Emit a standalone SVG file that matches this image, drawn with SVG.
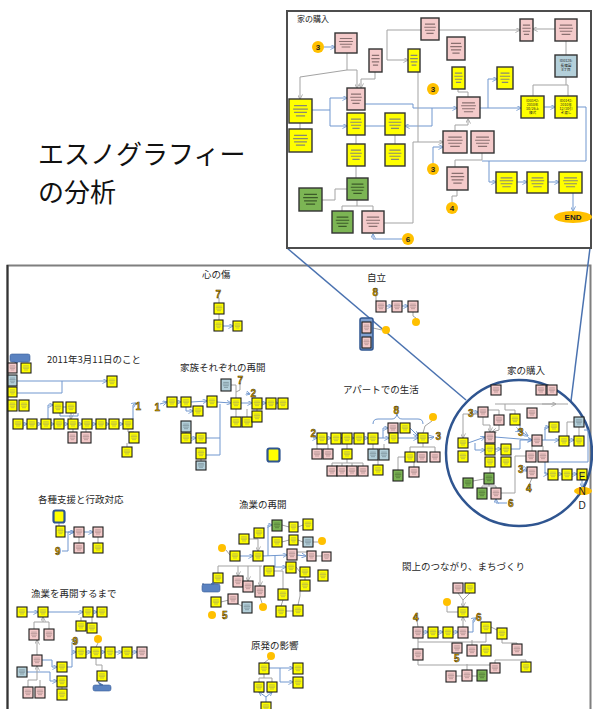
<svg xmlns="http://www.w3.org/2000/svg" width="593" height="709" viewBox="0 0 593 709">
<style>
.Y,.P,.B,.G{stroke:#1e1e1e;stroke-width:1.1}
.Y{fill:url(#py)}.P{fill:url(#pp)}.B{fill:url(#pb)}.G{fill:url(#pg)}
.inset .Y,.inset .P,.inset .B,.inset .G{stroke:#333;stroke-width:1.4}
.b{fill:none;stroke:#7097cf;stroke-width:1;marker-end:url(#ab)}
.bl{fill:none;stroke:#7097cf;stroke-width:1}
.g{fill:none;stroke:#a3a3a3;stroke-width:1}
.ga{fill:none;stroke:#a3a3a3;stroke-width:1;marker-end:url(#ag)}
.t{font-family:"Noto Sans CJK JP","Noto Sans",sans-serif;font-size:9.5px;fill:#262626}
.num{font-family:"Liberation Sans",sans-serif;font-weight:bold;font-size:10px;fill:#D9A300;stroke:#2a2200;stroke-width:0.45}
.oc{fill:#FFC000}
.cn{font-family:"Liberation Sans",sans-serif;font-weight:bold;font-size:8px;fill:#222;text-anchor:middle}
.tiny{font-family:"Noto Sans CJK JP",sans-serif;font-size:3.6px;fill:#222;text-anchor:middle}
</style>
<defs>
<pattern id="py" width="1" height="1" patternContentUnits="objectBoundingBox"><rect width="1" height="1" fill="#FFFF00"/><path d="M.22 .28H.78M.18 .42H.82M.22 .56H.78M.3 .7H.7" stroke="#8a8a70" stroke-width=".05"/></pattern>
<pattern id="pp" width="1" height="1" patternContentUnits="objectBoundingBox"><rect width="1" height="1" fill="#F4CACA"/><path d="M.22 .28H.78M.18 .42H.82M.22 .56H.78M.3 .7H.7" stroke="#8a7070" stroke-width=".05"/></pattern>
<pattern id="pb" width="1" height="1" patternContentUnits="objectBoundingBox"><rect width="1" height="1" fill="#B4D0DA"/><path d="M.22 .28H.78M.18 .42H.82M.22 .56H.78M.3 .7H.7" stroke="#5c6f78" stroke-width=".05"/></pattern>
<pattern id="pg" width="1" height="1" patternContentUnits="objectBoundingBox"><rect width="1" height="1" fill="#7CB554"/><path d="M.22 .28H.78M.18 .42H.82M.22 .56H.78M.3 .7H.7" stroke="#3b5a28" stroke-width=".05"/></pattern>
<marker id="ab" viewBox="0 0 6 6" refX="5.5" refY="3" markerWidth="5" markerHeight="5" orient="auto" markerUnits="userSpaceOnUse"><path d="M0,0L6,3L0,6" fill="none" stroke="#7097cf" stroke-width="1"/></marker>
<marker id="ag" viewBox="0 0 6 6" refX="5.5" refY="3" markerWidth="5" markerHeight="5" orient="auto" markerUnits="userSpaceOnUse"><path d="M0,0L6,3L0,6" fill="none" stroke="#a3a3a3" stroke-width="1"/></marker>
</defs>
<rect width="593" height="709" fill="#fff"/>

<!-- main frame -->
<rect x="7.5" y="265.5" width="583" height="460" fill="none" stroke="#7f7f7f" stroke-width="2"/>
<line x1="7.5" y1="265" x2="7.5" y2="709" stroke="#333" stroke-width="2"/>

<!-- big title -->
<text x="38" y="164" font-family="Noto Sans CJK JP,sans-serif" font-size="26" fill="#111">エスノグラフィー</text>
<text x="38" y="202" font-family="Noto Sans CJK JP,sans-serif" font-size="26" fill="#111">の分析</text>

<!-- zoom lines -->
<line x1="287" y1="248" x2="466" y2="400" stroke="#4a72b0" stroke-width="1.5"/>
<line x1="590" y1="248" x2="571" y2="401" stroke="#4a72b0" stroke-width="1.5"/>
<circle cx="519" cy="453" r="73" fill="none" stroke="#2f5590" stroke-width="2.5"/>

<!-- ===== INSET ===== -->
<g id="inset" class="inset">
<rect x="287" y="11" width="304" height="237" fill="#fff" stroke="#4d4d4d" stroke-width="2"/>
<text x="297" y="22" font-family="Noto Sans CJK JP,sans-serif" font-size="8" fill="#222">家の購入</text>
<g id="inset-connectors">
<polyline class="b" points="324,47 335,47"/>
<polyline class="g" points="347,53 347,70 300,77"/>
<polyline class="ga" points="300,77 300,99"/>
<polyline class="ga" points="347,70 357,70 357,88"/>
<polyline class="ga" points="375,72 375,79 361,79 361,88"/>
<polyline class="ga" points="421,30 387,30 387,60 408,60"/>
<polyline class="ga" points="439,30 520,30"/>
<polyline class="ga" points="555,29 533,29"/>
<polyline class="g" points="566,41 566,55"/>
<polyline class="g" points="566,77 566,85 533,85 533,96"/>
<polyline class="g" points="566,85 568,85 568,96"/>
<polyline class="b" points="544,107 555,107"/>
<polyline class="b" points="480,108 521,108"/>
<polyline class="b" points="488,108 488,79 497,79"/>
<polyline class="g" points="468,97 468,92 458,92 458,89"/>
<polyline class="b" points="312,110 330,110 330,98 347,98"/>
<polyline class="b" points="330,110 330,126 347,126"/>
<polyline class="b" points="365,104 413,104 413,108 457,108"/>
<polyline class="b" points="432,108 432,126 405,126"/>
<polyline class="bl" points="365,126 385,126"/>
<polyline class="g" points="300,123 300,129"/>
<polyline class="g" points="356,135 356,144"/>
<polyline class="g" points="395,135 395,144"/>
<polyline class="g" points="356,166 356,178"/>
<polyline class="g" points="347,189 335,189 335,200 322,200"/>
<polyline class="g" points="357,200 357,206 342,206 342,211"/>
<polyline class="g" points="357,206 373,206 373,211"/>
<polyline class="g" points="418,72 418,142"/>
<polyline class="ga" points="384,223 413,223 413,142 443,142"/>
<polyline class="b" points="402,239 373,239 373,234"/>
<polyline class="b" points="433,163 433,147 443,147"/>
<polyline class="ga" points="455,131 455,125 468,125 468,119"/>
<polyline class="g" points="455,167 455,160 482,160 482,153"/>
<polyline class="bl" points="482,161 586,161 586,107 577,107"/>
<polyline class="b" points="489,161 489,182 496,182"/>
<polyline class="g" points="452,202 452,196 457,196 457,190"/>
<polyline class="b" points="517,182 527,182"/>
<polyline class="b" points="548,182 559,182"/>
<polyline class="b" points="573,193 573,211"/>
</g>
<g id="h1"><rect class="P" x="335" y="33" width="22" height="20"/></g>
<g id="h2"><rect class="P" x="421" y="18" width="18" height="22"/></g>
<g id="h3"><rect class="P" x="369" y="49" width="13" height="23"/></g>
<g id="h4"><rect class="Y" x="408" y="49" width="12" height="23"/></g>
<g id="h5"><rect class="P" x="447" y="37" width="18" height="23"/></g>
<g id="h6"><rect class="P" x="520" y="19" width="13" height="22"/></g>
<g id="h7"><rect class="P" x="555" y="19" width="22" height="22"/></g>
<g id="h8"><rect x="555" y="55" width="22" height="22" fill="#B4D0DA" stroke="#333" stroke-width="1.4"/><text class="tiny" x="566" y="62">ID0128:<tspan x="566" dy="4.5">長篠園</tspan><tspan x="566" dy="4.5">8丁目</tspan></text></g>
<g id="h9"><rect class="Y" x="452" y="67" width="13" height="22"/></g>
<g id="h10"><rect class="Y" x="497" y="67" width="16" height="22"/></g>
<g id="h11"><rect class="P" x="347" y="88" width="18" height="22"/></g>
<g id="h12"><rect class="P" x="457" y="97" width="23" height="21"/></g>
<g id="h13"><rect x="521" y="96" width="23" height="22" fill="#FFFF00" stroke="#333" stroke-width="1.4"/><text class="tiny" x="532.5" y="102">ID0142:<tspan x="532.5" dy="4">2010年</tspan><tspan x="532.5" dy="4">10/26上</tspan><tspan x="532.5" dy="4">棟式</tspan></text></g>
<g id="h14"><rect x="555" y="96" width="22" height="22" fill="#FFFF00" stroke="#333" stroke-width="1.4"/><text class="tiny" x="566" y="102">ID0142:<tspan x="566" dy="4">2010年</tspan><tspan x="566" dy="4">12/10引</tspan><tspan x="566" dy="4">き渡し</tspan></text></g>
<g id="h15"><rect class="Y" x="289" y="99" width="23" height="24"/></g>
<g id="h16"><rect class="Y" x="347" y="113" width="18" height="22"/></g>
<g id="h17"><rect class="Y" x="385" y="113" width="20" height="22"/></g>
<g id="h18"><rect class="Y" x="289" y="129" width="23" height="23"/></g>
<g id="h19"><rect class="Y" x="347" y="144" width="18" height="22"/></g>
<g id="h20"><rect class="Y" x="385" y="144" width="20" height="22"/></g>
<g id="h21"><rect class="G" x="347" y="178" width="21" height="22"/></g>
<g id="h22"><rect class="G" x="299" y="188" width="23" height="23"/></g>
<g id="h23"><rect class="G" x="332" y="211" width="21" height="22"/></g>
<g id="h24"><rect class="P" x="362" y="211" width="22" height="22"/></g>
<g id="h25"><rect class="P" x="443" y="131" width="24" height="22"/></g>
<g id="h26"><rect class="P" x="471" y="131" width="23" height="22"/></g>
<g id="h27"><rect class="P" x="447" y="167" width="21" height="23"/></g>
<g id="h28"><rect class="Y" x="496" y="172" width="21" height="21"/></g>
<g id="h29"><rect class="Y" x="527" y="172" width="21" height="21"/></g>
<g id="h30"><rect class="Y" x="559" y="172" width="23" height="21"/></g>
<g id="hend"><ellipse cx="573" cy="217" rx="19" ry="6" fill="#FFC000"/><text class="cn" x="573" y="220">END</text></g>
<g id="hc1"><circle class="oc" cx="318" cy="47" r="6"/><text class="cn" x="318" y="50">3</text></g>
<g id="hc2"><circle class="oc" cx="433" cy="89" r="6"/><text class="cn" x="433" y="92">3</text></g>
<g id="hc3"><circle class="oc" cx="433" cy="169" r="6"/><text class="cn" x="433" y="172">3</text></g>
<g id="hc4"><circle class="oc" cx="452" cy="208" r="6"/><text class="cn" x="452" y="211">4</text></g>
<g id="hc5"><circle class="oc" cx="408" cy="239" r="6"/><text class="cn" x="408" y="242">6</text></g>
</g>

<!-- ===== section labels ===== -->
<text class="t" x="202" y="278">心の傷</text>
<text class="t" x="367" y="281">自立</text>
<text class="t" x="47" y="363">2011年3月11日のこと</text>
<text class="t" x="180" y="371">家族それぞれの再開</text>
<text class="t" x="343" y="393">アパートでの生活</text>
<text class="t" x="507" y="374">家の購入</text>
<text class="t" x="38" y="503">各種支援と行政対応</text>
<text class="t" x="239" y="508">漁業の再開</text>
<text class="t" x="31" y="597">漁業を再開するまで</text>
<text class="t" x="402" y="570">閖上のつながり、まちづくり</text>
<text class="t" x="251" y="649">原発の影響</text>

<!-- ===== main connectors ===== -->
<g id="connectors">
<polyline class="g" points="219,298 219,303"/>
<polyline class="g" points="219,314 219,320"/>
<polyline class="b" points="223,326 233,326"/>
<polyline class="g" points="376,296 376,301"/>
<polyline class="b" points="386,306 392,306"/>
<polyline class="b" points="402,306 408,306"/>
<polyline class="g" points="413,312 413,316 416,318"/>
<polyline class="g" points="373,328 382,330"/>
<polyline class="b" points="17,381 107,381"/>
<polyline class="bl" points="62,381 62,393 17,393"/>
<polyline class="b" points="23,424 27,424"/>
<polyline class="b" points="37,424 41,424"/>
<polyline class="b" points="51,424 54,424"/>
<polyline class="b" points="64,424 68,424"/>
<polyline class="b" points="78,424 82,424"/>
<polyline class="b" points="92,424 96,424"/>
<polyline class="b" points="106,424 109,424"/>
<polyline class="b" points="119,424 123,424"/>
<polyline class="b" points="48,419 48,405 53,405"/>
<polyline class="bl" points="63,407 66,407"/>
<polyline class="ga" points="71,413 71,419"/>
<polyline class="bl" points="60,413 60,416 78,416 78,413"/>
<polyline class="g" points="73,429 73,432"/>
<polyline class="g" points="86,429 86,432"/>
<polyline class="b" points="133,419 133,405 136,403"/>
<polyline class="g" points="128,429 128,432 134,432"/>
<polyline class="g" points="127,443 127,447"/>
<polyline class="b" points="160,404 167,402"/>
<polyline class="b" points="177,402 181,402"/>
<polyline class="b" points="191,402 207,401"/>
<polyline class="b" points="186,407 186,411 193,411"/>
<polyline class="b" points="217,402 231,403"/>
<polyline class="bl" points="220,404 220,455 206,455"/>
<polyline class="bl" points="206,438 220,438"/>
<polyline class="g" points="231,385 236,385 236,398"/>
<polyline class="g" points="240,383 240,390 236,392"/>
<polyline class="b" points="246,393 250,394"/>
<polyline class="b" points="241,403 252,403"/>
<polyline class="b" points="262,403 266,403"/>
<polyline class="b" points="276,403 278,403"/>
<polyline class="g" points="236,409 236,417"/>
<polyline class="g" points="247,409 247,417"/>
<polyline class="g" points="257,409 257,411"/>
<polyline class="g" points="186,432 186,433"/>
<polyline class="b" points="191,438 196,438"/>
<polyline class="g" points="201,459 201,461"/>
<polyline class="b" points="313,438 317,438"/>
<polyline class="b" points="327,438 331,438"/>
<polyline class="b" points="341,438 342,438"/>
<polyline class="b" points="352,438 354,438"/>
<polyline class="b" points="364,438 368,438"/>
<polyline class="b" points="378,438 389,438"/>
<polyline class="b" points="383,438 383,428 388,428"/>
<polyline class="b" points="398,438 418,438"/>
<polyline class="b" points="410,428 418,436"/>
<polyline class="b" points="428,438 434,437"/>
<path class="bl" d="M373,424 Q373,419 378,419 H392 Q396,419 397,414 Q398,419 402,419 H418 Q423,419 423,424"/>
<polyline class="g" points="432,421 425,426 423,433"/>
<polyline class="g" points="317,444 317,449"/>
<polyline class="g" points="328,444 328,449"/>
<polyline class="g" points="347,444 347,449"/>
<polyline class="g" points="347,459 347,463 332,463 332,466"/>
<polyline class="g" points="342,463 342,466"/>
<polyline class="g" points="352,463 352,466"/>
<polyline class="g" points="347,463 363,463 363,466"/>
<polyline class="g" points="373,444 373,449"/>
<polyline class="g" points="384,444 384,449"/>
<polyline class="g" points="378,460 378,465"/>
<polyline class="g" points="423,443 423,447 410,447 410,452"/>
<polyline class="g" points="423,447 435,447 435,452"/>
<polyline class="g" points="405,457 398,457 398,470"/>
<polyline class="g" points="414,462 414,467"/>
<polyline class="b" points="474,412 478,412"/>
<polyline class="g" points="488,410 499,410 499,415"/>
<polyline class="g" points="495,404 568,404"/>
<polyline class="ga" points="542,404 556,404"/>
<polyline class="g" points="505,404 505,410 515,410 515,414"/>
<polyline class="ga" points="478,414 463,414 463,438"/>
<polyline class="ga" points="483,417 483,425 490,425 490,432"/>
<polyline class="ga" points="499,425 499,430 492,432"/>
<polyline class="b" points="468,443 485,437"/>
<polyline class="b" points="475,443 475,450 485,450"/>
<polyline class="b" points="495,449 501,449"/>
<polyline class="b" points="495,437 532,440"/>
<polyline class="b" points="511,449 520,449 520,440 532,440"/>
<polyline class="b" points="517,430 520,431"/>
<polyline class="b" points="520,425 520,431 528,436"/>
<polyline class="b" points="542,440 559,440"/>
<polyline class="b" points="545,440 545,427 549,427"/>
<polyline class="b" points="569,440 574,440"/>
<polyline class="g" points="579,427 579,436"/>
<polyline class="g" points="574,422 567,422 567,436"/>
<polyline class="g" points="532,446 532,451"/>
<polyline class="g" points="543,446 543,451"/>
<polyline class="b" points="524,469 527,471"/>
<polyline class="g" points="529,485 532,478"/>
<polyline class="g" points="501,493 515,493 515,456 526,456"/>
<polyline class="bl" points="548,462 588,462 588,430 584,430"/>
<polyline class="b" points="545,462 545,474 548,474"/>
<polyline class="b" points="558,474 562,474"/>
<polyline class="b" points="572,474 577,474"/>
<polyline class="g" points="490,467 490,473"/>
<polyline class="g" points="484,479 473,481"/>
<polyline class="g" points="489,484 489,486 482,486 482,488"/>
<polyline class="g" points="489,486 496,486 496,488"/>
<polyline class="b" points="507,503 496,503 496,499"/>
<polyline class="b" points="582,480 582,487"/>
<polyline class="g" points="59,523 59,526"/>
<polyline class="b" points="65,532 74,532"/>
<polyline class="b" points="84,532 93,532"/>
<polyline class="b" points="62,551 68,551 68,532 74,532"/>
<polyline class="g" points="79,537 79,543"/>
<polyline class="g" points="98,537 98,543"/>
<polyline class="b" points="240,556 253,556"/>
<polyline class="b" points="263,556 287,555"/>
<polyline class="b" points="268,556 268,525 272,525"/>
<polyline class="b" points="275,556 275,567 286,567"/>
<polyline class="g" points="226,550 230,555"/>
<polyline class="ga" points="249,539 258,539 258,551"/>
<polyline class="g" points="282,525 289,527"/>
<polyline class="g" points="298,527 303,525"/>
<polyline class="g" points="282,542 289,540"/>
<polyline class="g" points="298,540 303,542"/>
<polyline class="b" points="297,555 306,556"/>
<polyline class="g" points="316,556 322,556"/>
<polyline class="g" points="296,567 300,572"/>
<polyline class="g" points="305,577 305,580"/>
<polyline class="g" points="218,573 218,566 262,566"/>
<polyline class="ga" points="238,566 238,576"/>
<polyline class="ga" points="248,566 248,581"/>
<polyline class="ga" points="260,566 260,586"/>
<polyline class="g" points="274,571 283,571 283,589"/>
<polyline class="g" points="233,599 221,602"/>
<polyline class="g" points="238,604 242,606"/>
<polyline class="g" points="260,597 262,603"/>
<polyline class="g" points="283,600 281,606"/>
<polyline class="g" points="286,611 293,611"/>
<polyline class="g" points="300,591 300,596 298,605"/>
<polyline class="g" points="313,542 318,542"/>
<polyline class="g" points="297,554 297,552 307,552"/>
<polyline class="b" points="27,612 38,612"/>
<polyline class="b" points="48,612 83,612"/>
<polyline class="b" points="93,612 97,612"/>
<polyline class="ga" points="34,629 34,622 43,622 43,617"/>
<polyline class="g" points="49,629 49,622 43,622"/>
<polyline class="g" points="81,617 81,621"/>
<polyline class="g" points="92,617 92,623"/>
<polyline class="ga" points="37,655 37,640"/>
<polyline class="b" points="42,660 52,660 52,667 57,667"/>
<polyline class="b" points="27,672 50,672 50,681 57,681"/>
<polyline class="b" points="67,667 72,667 72,652 76,652"/>
<polyline class="b" points="72,652 72,642 76,640"/>
<polyline class="b" points="86,652 91,652"/>
<polyline class="b" points="101,652 105,652"/>
<polyline class="b" points="115,652 122,652"/>
<polyline class="b" points="132,652 137,652"/>
<polyline class="g" points="98,643 96,647"/>
<polyline class="g" points="96,658 96,665 102,665 102,671"/>
<polyline class="ga" points="28,687 28,680 37,680 37,666"/>
<polyline class="g" points="40,687 40,680"/>
<polyline class="g" points="62,687 62,689"/>
<polyline class="g" points="269,659 264,663"/>
<polyline class="b" points="269,668 293,668"/>
<polyline class="b" points="280,668 280,682 293,682"/>
<polyline class="g" points="264,674 264,678 259,678 259,682"/>
<polyline class="g" points="264,678 272,678 272,682"/>
<polyline class="b" points="266,702 266,697 259,692"/>
<polyline class="b" points="266,697 272,692"/>
<polyline class="ga" points="458,593 463,600 463,607"/>
<polyline class="g" points="470,593 463,600"/>
<polyline class="g" points="447,606 447,612 458,612"/>
<polyline class="ga" points="463,627 463,617"/>
<polyline class="b" points="468,632 473,632 473,620 476,618"/>
<polyline class="g" points="417,621 418,627"/>
<polyline class="b" points="423,632 428,632"/>
<polyline class="b" points="438,632 443,632"/>
<polyline class="b" points="453,632 458,632"/>
<polyline class="g" points="418,638 418,642 486,642 486,633"/>
<polyline class="g" points="491,627 497,630"/>
<polyline class="g" points="502,639 502,643 517,643 517,644"/>
<polyline class="g" points="418,649 418,642"/>
<polyline class="g" points="418,660 418,665 490,665"/>
<polyline class="g" points="495,663 495,660 526,660 526,662"/>
<polyline class="g" points="456,676 462,676"/>
<polyline class="g" points="472,676 477,676"/>
<polyline class="g" points="467,670 467,664"/>
<polyline class="g" points="472,645 472,640"/>
</g>

<!-- ===== 心の傷 ===== -->
<g id="k0"><text class="num" x="215.5" y="298">7</text></g>
<g id="k1"><rect class="Y" x="214" y="303" width="10" height="11"/></g>
<g id="k2"><rect class="Y" x="214" y="320" width="9" height="11"/></g>
<g id="k3"><rect class="Y" x="233" y="321" width="9" height="10"/></g>

<!-- ===== 自立 ===== -->
<g id="j0"><text class="num" x="372.5" y="296">8</text></g>
<g id="j1"><rect class="P" x="376" y="301" width="10" height="11"/></g>
<g id="j2"><rect class="P" x="392" y="301" width="10" height="11"/></g>
<g id="j3"><rect class="P" x="408" y="301" width="10" height="11"/></g>
<g id="j4"><circle class="oc" cx="416" cy="322" r="4"/></g>
<g id="j5"><rect x="360" y="318" width="13" height="32" rx="2" fill="#7f9fcf" stroke="#2f5590" stroke-width="1.5"/><rect class="P" x="362" y="322" width="9" height="11"/><rect class="P" x="362" y="337" width="9" height="11"/></g>
<g id="j6"><circle class="oc" cx="386" cy="330" r="4"/></g>

<!-- ===== 2011 ===== -->
<g id="d0"><path d="M12,354h16a2,2 0 0 1 2,2v4a2,2 0 0 1 -2,2h-10l-3,3v-3h-3a2,2 0 0 1 -2,-2v-4a2,2 0 0 1 2,-2z" fill="#5a82c0" stroke="#3a5f98" stroke-width="0.6"/></g>
<g id="d1"><rect class="P" x="8" y="363" width="9" height="10"/></g>
<g id="d2"><rect class="Y" x="21" y="363" width="10" height="10"/></g>
<g id="d3"><rect class="B" x="8" y="375" width="9" height="11"/></g>
<g id="d4"><rect class="Y" x="107" y="376" width="10" height="11"/></g>
<g id="d5"><rect class="Y" x="8" y="387" width="9" height="10"/></g>
<g id="d6"><rect class="Y" x="8" y="400" width="9" height="11"/></g>
<g id="d7"><rect class="Y" x="19" y="400" width="10" height="11"/></g>
<g id="d8"><rect class="Y" x="53" y="402" width="10" height="11"/></g>
<g id="d9"><rect class="Y" x="66" y="402" width="10" height="11"/></g>
<g id="d10"><rect class="Y" x="13" y="419" width="10" height="10"/></g>
<g id="d11"><rect class="Y" x="27" y="419" width="10" height="10"/></g>
<g id="d12"><rect class="Y" x="41" y="419" width="10" height="10"/></g>
<g id="d13"><rect class="Y" x="54" y="419" width="10" height="10"/></g>
<g id="d14"><rect class="Y" x="68" y="419" width="10" height="10"/></g>
<g id="d15"><rect class="Y" x="82" y="419" width="10" height="10"/></g>
<g id="d16"><rect class="Y" x="96" y="419" width="10" height="10"/></g>
<g id="d17"><rect class="Y" x="109" y="419" width="10" height="10"/></g>
<g id="d18"><rect class="Y" x="123" y="419" width="10" height="10"/></g>
<g id="d19"><rect class="P" x="68" y="432" width="9" height="11"/></g>
<g id="d20"><rect class="P" x="81" y="432" width="10" height="11"/></g>
<g id="d21"><rect class="Y" x="129" y="432" width="10" height="11"/></g>
<g id="d22"><rect class="Y" x="122" y="447" width="10" height="10"/></g>
<g id="d23"><text class="num" x="135.5" y="410">1</text></g>

<!-- ===== 家族それぞれの再開 ===== -->
<g id="f0"><text class="num" x="154.5" y="411">1</text></g>
<g id="f1"><rect class="Y" x="167" y="397" width="10" height="10"/></g>
<g id="f2"><rect class="Y" x="181" y="397" width="10" height="10"/></g>
<g id="f3"><rect class="Y" x="193" y="406" width="10" height="10"/></g>
<g id="f4"><rect class="Y" x="207" y="396" width="10" height="11"/></g>
<g id="f5"><rect class="B" x="221" y="379" width="10" height="12"/></g>
<g id="f6"><text class="num" x="237.5" y="384">7</text></g>
<g id="f7"><rect class="Y" x="231" y="398" width="10" height="11"/></g>
<g id="f8"><text class="num" x="250.5" y="397">2</text></g>
<g id="f9"><rect class="Y" x="252" y="398" width="10" height="11"/></g>
<g id="f10"><rect class="Y" x="266" y="398" width="10" height="11"/></g>
<g id="f11"><rect class="Y" x="278" y="398" width="10" height="11"/></g>
<g id="f12"><rect class="Y" x="231" y="417" width="10" height="10"/></g>
<g id="f13"><rect class="Y" x="242" y="417" width="10" height="10"/></g>
<g id="f14"><rect class="Y" x="252" y="411" width="10" height="11"/></g>
<g id="f15"><rect class="B" x="181" y="421" width="10" height="11"/></g>
<g id="f16"><rect class="Y" x="181" y="433" width="10" height="10"/></g>
<g id="f17"><rect class="Y" x="196" y="433" width="10" height="10"/></g>
<g id="f18"><rect class="Y" x="196" y="448" width="10" height="11"/></g>
<g id="f19"><rect class="B" x="196" y="461" width="10" height="9"/></g>
<g id="f20"><rect x="267.5" y="448.5" width="12" height="13" rx="2" fill="#FFFF00" stroke="#2f5590" stroke-width="2.2"/></g>

<!-- ===== アパートでの生活 ===== -->
<g id="a0"><text class="num" x="310.5" y="437">2</text></g>
<g id="a1"><rect class="Y" x="317" y="433" width="10" height="11"/></g>
<g id="a2"><rect class="Y" x="331" y="433" width="10" height="11"/></g>
<g id="a3"><rect class="Y" x="342" y="433" width="10" height="11"/></g>
<g id="a4"><rect class="Y" x="354" y="433" width="10" height="11"/></g>
<g id="a5"><rect class="Y" x="368" y="433" width="10" height="11"/></g>
<g id="a6"><text class="num" x="393.5" y="414">8</text></g>
<g id="a7"><rect class="P" x="388" y="423" width="10" height="10"/></g>
<g id="a8"><rect class="Y" x="400" y="423" width="10" height="10"/></g>
<g id="a9"><rect class="Y" x="389" y="433" width="9" height="10"/></g>
<g id="a10"><rect class="Y" x="418" y="433" width="10" height="10"/></g>
<g id="a11"><circle class="oc" cx="433" cy="417" r="4"/></g>
<g id="a12"><text class="num" x="435.5" y="440">3</text></g>
<g id="a13"><rect class="P" x="312" y="449" width="10" height="10"/></g>
<g id="a14"><rect class="P" x="323" y="449" width="10" height="10"/></g>
<g id="a15"><rect class="Y" x="342" y="449" width="10" height="10"/></g>
<g id="a16"><rect class="B" x="368" y="449" width="10" height="11"/></g>
<g id="a17"><rect class="B" x="379" y="449" width="10" height="11"/></g>
<g id="a18"><rect class="P" x="327" y="466" width="10" height="10"/></g>
<g id="a19"><rect class="P" x="337" y="466" width="10" height="10"/></g>
<g id="a20"><rect class="P" x="347" y="466" width="10" height="10"/></g>
<g id="a21"><rect class="P" x="358" y="466" width="10" height="10"/></g>
<g id="a22"><rect class="Y" x="373" y="465" width="10" height="10"/></g>
<g id="a23"><rect class="Y" x="405" y="452" width="10" height="10"/></g>
<g id="a24"><rect class="P" x="417" y="452" width="10" height="10"/></g>
<g id="a25"><rect class="P" x="430" y="452" width="10" height="10"/></g>
<g id="a26"><rect class="G" x="393" y="470" width="10" height="11"/></g>
<g id="a27"><rect class="P" x="409" y="467" width="10" height="10"/></g>

<!-- ===== 家の購入 (circle) ===== -->
<g id="p1"><rect class="P" x="491" y="385" width="10" height="10"/></g>
<g id="p2"><rect class="P" x="536" y="385" width="10" height="10"/></g>
<g id="p3"><rect class="P" x="547" y="385" width="10" height="10"/></g>
<g id="p4"><text class="num" x="468" y="417">3</text></g>
<g id="p5"><rect class="P" x="478" y="407" width="10" height="10"/></g>
<g id="p6"><rect class="P" x="494" y="415" width="10" height="10"/></g>
<g id="p7"><rect class="Y" x="510" y="414" width="10" height="11"/></g>
<g id="p8"><rect class="P" x="527" y="408" width="10" height="10"/></g>
<g id="p9"><rect class="Y" x="549" y="422" width="10" height="10"/></g>
<g id="p10"><rect class="B" x="574" y="417" width="10" height="10"/></g>
<g id="p11"><text class="num" x="518" y="436">3</text></g>
<g id="p12"><rect class="P" x="485" y="432" width="10" height="11"/></g>
<g id="p13"><rect class="Y" x="458" y="438" width="10" height="10"/></g>
<g id="p14"><rect class="Y" x="458" y="451" width="10" height="11"/></g>
<g id="p15"><rect class="Y" x="485" y="444" width="10" height="11"/></g>
<g id="p16"><rect class="Y" x="501" y="444" width="10" height="11"/></g>
<g id="p17"><rect class="P" x="532" y="435" width="10" height="11"/></g>
<g id="p18"><rect class="Y" x="559" y="436" width="10" height="10"/></g>
<g id="p19"><rect class="Y" x="574" y="436" width="10" height="10"/></g>
<g id="p20"><rect class="Y" x="485" y="457" width="10" height="10"/></g>
<g id="p21"><rect class="Y" x="501" y="457" width="10" height="10"/></g>
<g id="p22"><rect class="P" x="526" y="451" width="10" height="11"/></g>
<g id="p23"><rect class="P" x="538" y="451" width="10" height="11"/></g>
<g id="p24"><text class="num" x="518" y="473">3</text></g>
<g id="p25"><rect class="P" x="527" y="467" width="10" height="11"/></g>
<g id="p26"><text class="num" x="526" y="492">4</text></g>
<g id="p27"><rect class="Y" x="548" y="469" width="10" height="11"/></g>
<g id="p28"><rect class="Y" x="562" y="469" width="10" height="11"/></g>
<g id="p29"><rect class="Y" x="577" y="469" width="10" height="11"/></g>
<g id="p30"><rect class="G" x="484" y="473" width="10" height="11"/></g>
<g id="p31"><rect class="G" x="463" y="478" width="10" height="10"/></g>
<g id="p32"><rect class="G" x="477" y="488" width="10" height="11"/></g>
<g id="p33"><rect class="P" x="491" y="488" width="10" height="11"/></g>
<g id="p34"><text class="num" x="508" y="507">6</text></g>
<g id="pend"><ellipse cx="583" cy="491" rx="9" ry="4" fill="#FFC000"/><text x="582" y="480" font-family="Liberation Sans,sans-serif" font-size="10" fill="#222" text-anchor="middle">E</text><text x="582" y="495" font-family="Liberation Sans,sans-serif" font-size="10" fill="#222" text-anchor="middle">N</text><text x="582" y="509" font-family="Liberation Sans,sans-serif" font-size="10" fill="#222" text-anchor="middle">D</text></g>

<!-- ===== 各種支援と行政対応 ===== -->
<g id="s1"><rect x="53.5" y="510.5" width="11" height="12" rx="2" fill="#FFFF00" stroke="#2f5590" stroke-width="2.2"/></g>
<g id="s2"><rect class="Y" x="56" y="526" width="9" height="11"/></g>
<g id="s3"><rect class="P" x="74" y="527" width="10" height="10"/></g>
<g id="s4"><rect class="P" x="93" y="527" width="10" height="10"/></g>
<g id="s5"><rect class="P" x="74" y="543" width="10" height="10"/></g>
<g id="s6"><rect class="Y" x="93" y="543" width="10" height="10"/></g>
<g id="s7"><text class="num" x="55" y="555">9</text></g>

<!-- ===== 漁業の再開 ===== -->
<g id="g1"><rect class="G" x="272" y="520" width="10" height="11"/></g>
<g id="g2"><rect class="Y" x="289" y="522" width="9" height="10"/></g>
<g id="g3"><rect class="Y" x="303" y="519" width="10" height="11"/></g>
<g id="g4"><rect class="Y" x="254" y="528" width="10" height="10"/></g>
<g id="g5"><rect class="Y" x="239" y="534" width="10" height="10"/></g>
<g id="g6"><rect class="Y" x="272" y="537" width="10" height="10"/></g>
<g id="g7"><rect class="Y" x="289" y="535" width="9" height="10"/></g>
<g id="g8"><rect class="B" x="303" y="537" width="10" height="10"/></g>
<g id="g9"><circle class="oc" cx="222" cy="548" r="4"/></g>
<g id="g9b"><circle class="oc" cx="322" cy="541" r="4"/></g>
<g id="g10"><rect class="Y" x="230" y="551" width="10" height="10"/></g>
<g id="g11"><rect class="Y" x="253" y="551" width="10" height="10"/></g>
<g id="g12"><rect class="P" x="287" y="549" width="10" height="11"/></g>
<g id="g13"><rect class="P" x="307" y="551" width="9" height="10"/></g>
<g id="g13b"><rect class="P" x="322" y="552" width="9" height="9"/></g>
<g id="g14"><rect class="Y" x="264" y="566" width="10" height="10"/></g>
<g id="g15"><rect class="Y" x="286" y="562" width="10" height="11"/></g>
<g id="g16"><rect class="Y" x="300" y="567" width="10" height="10"/></g>
<g id="g16b"><rect class="Y" x="318" y="570" width="10" height="11"/></g>
<g id="g17"><rect class="Y" x="300" y="580" width="10" height="11"/></g>
<g id="g18"><rect class="Y" x="213" y="573" width="10" height="10"/></g>
<g id="g19"><path d="M202,584h16a2,2 0 0 1 2,2v4a2,2 0 0 1 -2,2h-14a2,2 0 0 1 -2,-2v-4a2,2 0 0 1 2,-2zM211,584l3,-2v2z" fill="#5a82c0" stroke="#3a5f98" stroke-width="0.6"/></g>
<g id="g20"><rect class="P" x="233" y="576" width="10" height="11"/></g>
<g id="g21"><rect class="P" x="243" y="581" width="10" height="11"/></g>
<g id="g22"><rect class="P" x="255" y="586" width="10" height="11"/></g>
<g id="g23"><rect class="Y" x="278" y="589" width="10" height="11"/></g>
<g id="g24"><rect class="P" x="228" y="594" width="10" height="10"/></g>
<g id="g25"><rect class="Y" x="211" y="597" width="10" height="10"/></g>
<g id="g26"><rect class="B" x="242" y="602" width="10" height="11"/></g>
<g id="g27"><circle class="oc" cx="263" cy="607" r="4"/></g>
<g id="g28"><circle class="oc" cx="212" cy="615" r="4"/></g>
<g id="g29"><text class="num" x="222" y="619">5</text></g>
<g id="g30"><rect class="Y" x="276" y="606" width="10" height="11"/></g>
<g id="g31"><rect class="Y" x="293" y="605" width="10" height="11"/></g>

<!-- ===== 漁業を再開するまで ===== -->
<g id="r1"><rect class="Y" x="17" y="607" width="10" height="10"/></g>
<g id="r2"><rect class="Y" x="38" y="607" width="10" height="10"/></g>
<g id="r3"><rect class="Y" x="83" y="607" width="10" height="10"/></g>
<g id="r4"><rect class="Y" x="97" y="607" width="10" height="10"/></g>
<g id="r5"><rect class="Y" x="76" y="621" width="10" height="10"/></g>
<g id="r6"><rect class="Y" x="87" y="623" width="10" height="10"/></g>
<g id="r7"><rect class="P" x="29" y="629" width="10" height="11"/></g>
<g id="r8"><rect class="P" x="44" y="629" width="10" height="11"/></g>
<g id="r9"><text class="num" x="72.5" y="645">9</text></g>
<g id="r10"><circle class="oc" cx="98" cy="639" r="4"/></g>
<g id="r11"><rect class="Y" x="76" y="647" width="10" height="11"/></g>
<g id="r12"><rect class="Y" x="91" y="647" width="10" height="11"/></g>
<g id="r13"><rect class="Y" x="105" y="647" width="10" height="11"/></g>
<g id="r14"><rect class="Y" x="122" y="647" width="10" height="11"/></g>
<g id="r15"><rect class="P" x="137" y="647" width="10" height="11"/></g>
<g id="r16"><rect class="P" x="32" y="655" width="10" height="11"/></g>
<g id="r17"><rect class="B" x="17" y="667" width="10" height="10"/></g>
<g id="r18"><rect class="Y" x="57" y="662" width="10" height="10"/></g>
<g id="r19"><rect class="Y" x="57" y="676" width="10" height="11"/></g>
<g id="r20"><rect class="Y" x="57" y="689" width="10" height="11"/></g>
<g id="r21"><rect class="Y" x="97" y="671" width="10" height="10"/></g>
<g id="r22"><path d="M95,685h14a2,2 0 0 1 2,2v2a2,2 0 0 1 -2,2h-14a2,2 0 0 1 -2,-2v-2a2,2 0 0 1 2,-2zM100,685l-2,-3l5,3z" fill="#5a82c0" stroke="#3a5f98" stroke-width="0.6"/></g>
<g id="r23"><rect class="P" x="23" y="687" width="10" height="11"/></g>
<g id="r24"><rect class="P" x="35" y="687" width="10" height="11"/></g>

<!-- ===== 原発の影響 ===== -->
<g id="n1"><circle class="oc" cx="271" cy="656" r="4"/></g>
<g id="n2"><rect class="Y" x="259" y="663" width="10" height="11"/></g>
<g id="n3"><rect class="Y" x="293" y="663" width="10" height="11"/></g>
<g id="n4"><rect class="Y" x="293" y="677" width="10" height="11"/></g>
<g id="n5"><rect class="Y" x="254" y="682" width="10" height="10"/></g>
<g id="n6"><rect class="Y" x="267" y="682" width="10" height="10"/></g>
<g id="n7"><rect class="Y" x="261" y="702" width="10" height="10"/></g>

<!-- ===== 閖上のつながり、まちづくり ===== -->
<g id="y1"><rect class="P" x="453" y="583" width="10" height="10"/></g>
<g id="y2"><rect class="Y" x="465" y="583" width="10" height="10"/></g>
<g id="y3"><circle class="oc" cx="447" cy="602" r="4"/></g>
<g id="y4"><rect class="Y" x="458" y="607" width="10" height="10"/></g>
<g id="y5"><text class="num" x="476" y="621">6</text></g>
<g id="y6"><text class="num" x="413" y="621">4</text></g>
<g id="y7"><rect class="P" x="413" y="627" width="10" height="11"/></g>
<g id="y8"><rect class="Y" x="428" y="627" width="10" height="11"/></g>
<g id="y9"><rect class="Y" x="443" y="627" width="10" height="11"/></g>
<g id="y10"><rect class="P" x="458" y="627" width="10" height="11"/></g>
<g id="y11"><rect class="Y" x="481" y="622" width="10" height="11"/></g>
<g id="y12"><rect class="Y" x="497" y="628" width="10" height="11"/></g>
<g id="y13"><rect class="P" x="452" y="643" width="10" height="10"/></g>
<g id="y14"><rect class="P" x="467" y="645" width="10" height="11"/></g>
<g id="y15"><rect class="Y" x="481" y="645" width="10" height="11"/></g>
<g id="y16"><text class="num" x="454" y="662">5</text></g>
<g id="y17"><rect class="P" x="512" y="644" width="10" height="11"/></g>
<g id="y18"><rect class="P" x="413" y="649" width="10" height="11"/></g>
<g id="y19"><rect class="Y" x="521" y="662" width="10" height="10"/></g>
<g id="y20"><rect class="P" x="490" y="663" width="10" height="10"/></g>
<g id="y21"><rect class="P" x="446" y="671" width="10" height="11"/></g>
<g id="y22"><rect class="P" x="462" y="670" width="10" height="11"/></g>
<g id="y23"><rect class="G" x="477" y="670" width="10" height="11"/></g>
</svg>
